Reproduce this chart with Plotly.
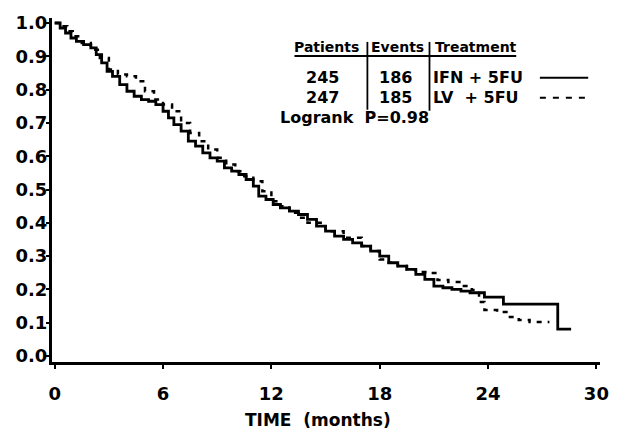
import plotly.graph_objects as go

# ---- data ----
ifn_time = [0, 0.3, 0.6, 0.9, 1.2, 1.6, 2.0, 2.3, 2.6, 2.9, 3.2, 3.6, 4.0, 4.4, 4.8, 5.2, 5.6,
            6.0, 6.3, 6.6, 7.0, 7.4, 7.8, 8.2, 8.6, 9.0, 9.4, 9.8, 10.2, 10.6, 11.0, 11.3, 11.7,
            12.1, 12.5, 13.0, 13.5, 14.0, 14.5, 15.0, 15.5, 16.0, 16.5, 17.0, 17.5, 18.0, 18.5,
            19.0, 19.5, 20.0, 20.5, 21.0, 21.5, 22.0, 22.5, 23.0, 23.8, 24.85, 27.86, 28.6]
ifn_surv = [1.0, 0.985, 0.97, 0.955, 0.945, 0.935, 0.925, 0.905, 0.88, 0.855, 0.84, 0.815, 0.795,
            0.78, 0.77, 0.765, 0.755, 0.735, 0.715, 0.695, 0.675, 0.645, 0.63, 0.61, 0.595, 0.585,
            0.565, 0.555, 0.545, 0.53, 0.51, 0.48, 0.47, 0.455, 0.445, 0.435, 0.425, 0.41, 0.39,
            0.375, 0.36, 0.35, 0.34, 0.33, 0.315, 0.30, 0.28, 0.27, 0.26, 0.245, 0.23, 0.21, 0.205,
            0.20, 0.195, 0.19, 0.177, 0.156, 0.081, 0.081]

lv_time = [0, 0.3, 0.7, 1.0, 1.5, 2.0, 2.5, 3.0, 3.5, 4.0, 4.5, 5.0, 5.5, 6.0, 6.5, 7.0, 7.5, 8.0,
           8.5, 9.0, 9.5, 10.0, 10.5, 11.0, 11.5, 12.0, 12.5, 13.0, 13.5, 14.0, 15.0, 16.0, 17.0,
           17.5, 18.0, 18.5, 19.0, 19.5, 20.0, 20.7, 21.2, 21.8, 22.5, 23.1, 23.5, 23.8, 24.5,
           25.1, 25.7, 26.3, 27.4]
lv_surv = [1.0, 0.99, 0.975, 0.96, 0.94, 0.92, 0.895, 0.86, 0.845, 0.84, 0.825, 0.795, 0.77,
           0.755, 0.735, 0.70, 0.67, 0.645, 0.62, 0.595, 0.575, 0.555, 0.54, 0.525, 0.495, 0.465,
           0.45, 0.43, 0.415, 0.40, 0.375, 0.355, 0.33, 0.315, 0.29, 0.28, 0.27, 0.26, 0.252,
           0.249, 0.228, 0.222, 0.21, 0.198, 0.162, 0.138, 0.132, 0.117, 0.108, 0.102, 0.102]

x_ticks = [0, 6, 12, 18, 24, 30]
y_ticks = [0.0, 0.1, 0.2, 0.3, 0.4, 0.5, 0.6, 0.7, 0.8, 0.9, 1.0]
y_tick_labels = ["0.0", "0.1", "0.2", "0.3", "0.4", "0.5", "0.6", "0.7", "0.8", "0.9", "1.0"]

patients = [245, 247]
events = [186, 185]
treatments = ["IFN + 5FU", "LV  + 5FU"]
logrank_p = "0.98"

FONT = "DejaVu Sans"

fig = go.Figure()
fig.add_trace(go.Scatter(x=ifn_time, y=ifn_surv, mode="lines", line_shape="hv",
                         line=dict(color="black", width=2.8), name=treatments[0]))
fig.add_trace(go.Scatter(x=lv_time, y=lv_surv, mode="lines", line_shape="hv",
                         line=dict(color="black", width=2.5, dash="5px,6px"), name=treatments[1]))

fig.update_layout(
    width=621, height=438,
    margin=dict(l=52, r=13, t=17, b=76),
    paper_bgcolor="white", plot_bgcolor="white",
    showlegend=False,
    font=dict(family=FONT, color="black", size=16, weight="bold"),
)
fig.update_xaxes(range=[-0.15, 30.2], tickvals=x_ticks, ticktext=[str(v) for v in x_ticks],
                 showgrid=False, zeroline=False, showline=True, linecolor="black", linewidth=3,
                 ticks="outside", ticklen=4, tickwidth=2, tickcolor="black",
                 ticklabelstandoff=9, ticklabeloverflow="allow",
                 tickfont=dict(family=FONT, size=18, weight="bold", color="black"))
fig.update_yaxes(range=[-0.018, 1.015], tickvals=y_ticks, ticktext=y_tick_labels,
                 showgrid=False, zeroline=False, showline=True, linecolor="black", linewidth=3,
                 ticks="outside", ticklen=3, tickwidth=2, tickcolor="black",
                 ticklabelstandoff=-5,
                 tickfont=dict(family=FONT, size=18, weight="bold", color="black"))

# ---- axis title ----
fig.add_annotation(text="TIME  (months)", xref="paper", yref="paper", x=0.485, y=-0.17,
                   showarrow=False, xanchor="center", yanchor="middle",
                   font=dict(family=FONT, size=17, weight="bold"))

# ---- legend table (paper coords) ----
def px_x(p):
    return (p - 52) / 556.0

def px_y(p):
    return (362 - p) / 345.0

hf = dict(family=FONT, size=14, weight="bold", color="black")
tf = dict(family=FONT, size=16, weight="bold", color="black")
hdr_y = px_y(46)
row_y = [px_y(77), px_y(97)]

fig.add_annotation(text="Patients", x=px_x(330), y=hdr_y, xref="paper", yref="paper",
                   showarrow=False, xanchor="center", yanchor="middle", font=hf)
fig.add_annotation(text="Events", x=px_x(403), y=hdr_y, xref="paper", yref="paper",
                   showarrow=False, xanchor="center", yanchor="middle", font=hf)
fig.add_annotation(text="Treatment", x=px_x(439), y=hdr_y, xref="paper", yref="paper",
                   showarrow=False, xanchor="left", yanchor="middle", font=hf)
for i in range(2):
    fig.add_annotation(text=str(patients[i]), x=px_x(326), y=row_y[i], xref="paper", yref="paper",
                       showarrow=False, xanchor="center", yanchor="middle", font=tf)
    fig.add_annotation(text=str(events[i]), x=px_x(401), y=row_y[i], xref="paper", yref="paper",
                       showarrow=False, xanchor="center", yanchor="middle", font=tf)
    fig.add_annotation(text=treatments[i].replace(" ", "&nbsp;"), x=px_x(437), y=row_y[i],
                       xref="paper", yref="paper",
                       showarrow=False, xanchor="left", yanchor="middle", font=tf)
fig.add_annotation(text="Logrank&nbsp;&nbsp;P=" + logrank_p, x=px_x(281), y=px_y(117),
                   xref="paper", yref="paper", showarrow=False, xanchor="left", yanchor="middle",
                   font=tf)

shapes = [
    dict(type="line", xref="paper", yref="paper", x0=px_x(298), x1=px_x(523),
         y0=px_y(55), y1=px_y(55), line=dict(color="black", width=2)),
    dict(type="line", xref="paper", yref="paper", x0=px_x(372), x1=px_x(372),
         y0=px_y(41), y1=px_y(109), line=dict(color="black", width=1.8)),
    dict(type="line", xref="paper", yref="paper", x0=px_x(435), x1=px_x(435),
         y0=px_y(41), y1=px_y(110), line=dict(color="black", width=1.8)),
    dict(type="line", xref="paper", yref="paper", x0=px_x(547), x1=px_x(596),
         y0=row_y[0], y1=row_y[0], line=dict(color="black", width=2)),
    dict(type="line", xref="paper", yref="paper", x0=px_x(547), x1=px_x(599),
         y0=row_y[1], y1=row_y[1], line=dict(color="black", width=2, dash="6px,7px")),
]
fig.update_layout(shapes=shapes)

fig.write_html("out.html", config={"displayModeBar": False},
               post_script="document.body.style.margin='0px';")
